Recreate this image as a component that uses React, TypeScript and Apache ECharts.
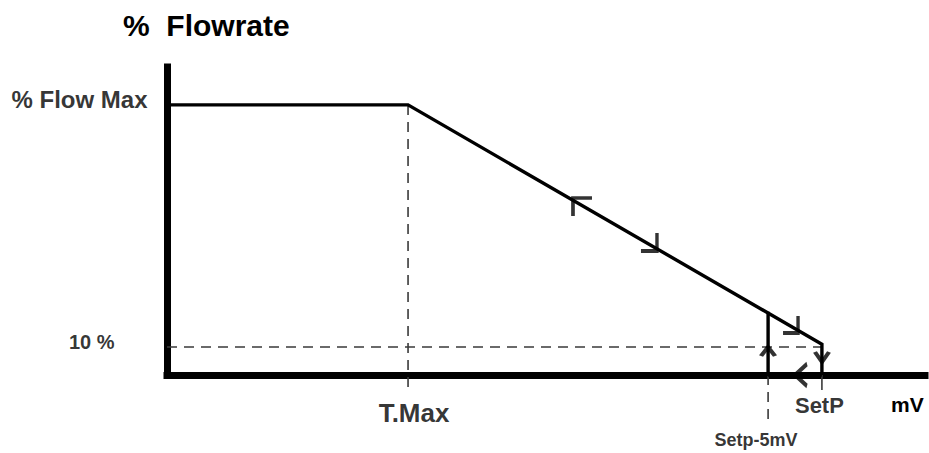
import React, { useEffect, useRef } from "react";
import * as echarts from "echarts";

// ---- data (axis units 0..100) ----
const T_MAX = 31.8;
const SETP_5MV = 79.3;
const SETP = 86.4;
const FLOW_MAX = 87.7;
const TEN_PCT = 9.1;

const curveX = [0, T_MAX, SETP, SETP];
const curveY = [FLOW_MAX, FLOW_MAX, 10.0, 0];
const loopX = [SETP, SETP_5MV, SETP_5MV];
const loopY = [0, 0, 20.5];
const tenLineX = [0, SETP];
const tenLineY = [TEN_PCT, TEN_PCT];
const tMaxGuideY = [FLOW_MAX, -5.5];
const setp5GuideY = [0, -16.2];
const setPGuideY = [0, -4.9];

// arrow marks: [x, y] of corner / apex
const arrowX = [53.56, 64.64, 83.25, 79.29, 86.41, 82.85];
const arrowY = [57.47, 40.26, 13.64, 9.09, 4.22, 0];

const yLabels = ["% Flow Max", "10 %"];
const xLabels = ["T.Max", "SetP", "Setp-5mV"];
const xUnit = "mV";
const title = "%  Flowrate";

const FONT = "'Liberation Sans', Arial, sans-serif";

const arrowShapes = [
  { symbol: "path://M10,0 L0,0 L0,10", size: [19, 18], offset: [9.5, 9] },
  { symbol: "path://M10,0 L10,10 L0,10", size: [16, 18], offset: [-8, -9] },
  { symbol: "path://M10,0 L10,10 L0,10", size: [15, 17], offset: [-7.5, -8.5] },
  { symbol: "path://M0,10 L7,0 L14,10", size: [14, 9], offset: [0, 4.5] },
  { symbol: "path://M0,0 L7,10 L14,0", size: [14, 10], offset: [0, -5] },
  { symbol: "path://M10,0 L0,10 L10,20", size: [12, 22], offset: [6, 0] },
];

const zip = (xs: number[], ys: number[]) => xs.map((x, i) => [x, ys[i]]);

export default function App() {
  const ref = useRef<HTMLDivElement>(null);
  useEffect(() => {
    if (!ref.current) return;
    const chart = echarts.init(ref.current, undefined, { renderer: "svg" });
    const dashed = { color: "#3a3a3a", width: 1.6, type: [10, 7] as any };
    const lbl = (text: string, pos: string, dist: number, size: number, off: number[]) => ({
      show: true,
      formatter: text,
      position: pos,
      distance: dist,
      offset: off,
      color: "#000",
      fontFamily: FONT,
      fontWeight: "bold",
      fontSize: size,
    });
    chart.setOption({
      animation: false,
      backgroundColor: "#fff",
      title: {
        text: title,
        left: 123,
        top: 10,
        padding: 0,
        textStyle: { fontFamily: FONT, fontWeight: "bold", fontSize: 30, color: "#000" },
      },
      grid: { left: 167, right: 4, top: 67, bottom: 78 },
      xAxis: {
        type: "value",
        min: 0,
        max: 100,
        name: xUnit,
        nameLocation: "end",
        nameGap: -34,
        nameTextStyle: {
          fontFamily: FONT,
          fontWeight: "bold",
          fontSize: 21,
          color: "#000",
          align: "left",
          verticalAlign: "top",
          padding: [19, 0, 0, 0],
        },
        axisLine: { show: true, lineStyle: { color: "#000", width: 7, cap: "square" } },
        axisTick: { show: false },
        axisLabel: { show: false },
        splitLine: { show: false },
      },
      yAxis: {
        type: "value",
        min: 0,
        max: 100,
        axisLine: { show: true, lineStyle: { color: "#000", width: 7, cap: "square" } },
        axisTick: { show: false },
        axisLabel: { show: false },
        splitLine: { show: false },
      },
      series: [
        {
          type: "line",
          clip: false,
          showSymbol: false,
          data: zip(tenLineX, tenLineY),
          lineStyle: dashed,
        },
        {
          type: "line",
          clip: false,
          showSymbol: false,
          data: zip([T_MAX, T_MAX], tMaxGuideY),
          lineStyle: dashed,
        },
        {
          type: "line",
          clip: false,
          showSymbol: false,
          data: zip([SETP_5MV, SETP_5MV], setp5GuideY),
          lineStyle: dashed,
        },
        {
          type: "line",
          clip: false,
          showSymbol: false,
          data: zip([SETP, SETP], setPGuideY),
          lineStyle: { color: "#3a3a3a", width: 1.6 },
        },
        {
          type: "line",
          clip: false,
          showSymbol: false,
          data: zip(curveX, curveY),
          lineStyle: { color: "#000", width: 3.4, join: "miter" },
          z: 5,
        },
        {
          type: "line",
          clip: false,
          showSymbol: false,
          data: zip(loopX, loopY),
          lineStyle: { color: "#000", width: 3.4 },
          z: 5,
        },
        {
          type: "scatter",
          clip: false,
          z: 6,
          data: arrowX.map((x, i) => ({
            value: [x, arrowY[i]],
            symbol: arrowShapes[i].symbol,
            symbolSize: arrowShapes[i].size,
            symbolOffset: arrowShapes[i].offset,
          })),
          itemStyle: { color: "none", borderColor: "#000", borderWidth: 3.6 },
        },
        {
          type: "scatter",
          clip: false,
          z: 7,
          symbolSize: 1,
          itemStyle: { color: "rgba(0,0,0,0)" },
          data: [
            { value: [0, FLOW_MAX], label: lbl(yLabels[0], "left", 19, 24, [0, -5]) },
            { value: [0, TEN_PCT], label: lbl(yLabels[1], "left", 52, 20, [0, -5]) },
            { value: [T_MAX, tMaxGuideY[1]], label: lbl(xLabels[0], "bottom", 8, 26, [6, 0]) },
            { value: [SETP, setPGuideY[1]], label: lbl(xLabels[1], "bottom", 4, 22, [-2.5, 0]) },
            { value: [SETP_5MV, setp5GuideY[1]], label: lbl(xLabels[2], "bottom", 6, 18, [-12, 0]) },
          ],
        },
      ],
    });
    return () => chart.dispose();
  }, []);
  return (
    <div
      ref={ref}
      style={{ position: "absolute", left: 0, top: 0, width: 929, height: 453 }}
    />
  );
}
